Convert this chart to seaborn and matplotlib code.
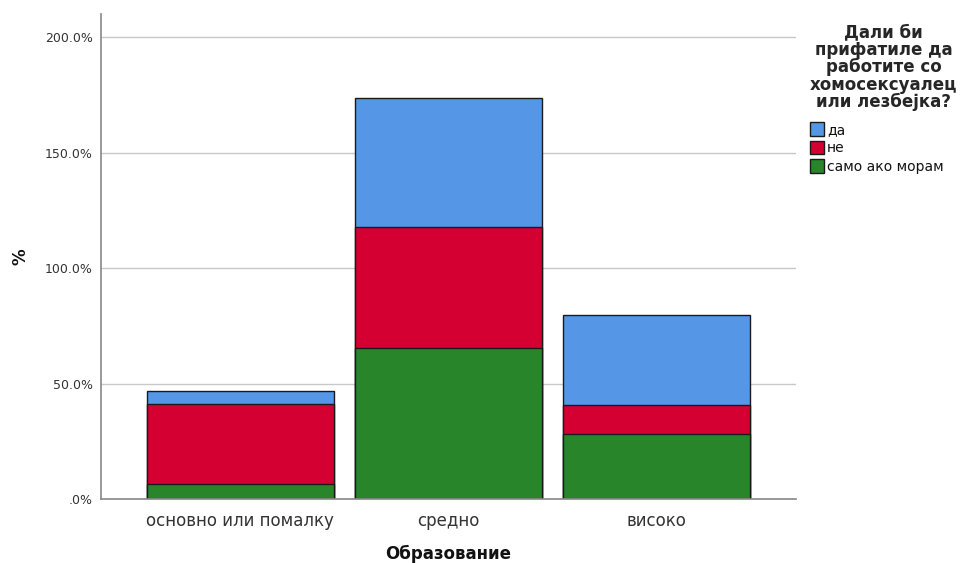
import matplotlib
matplotlib.use("Agg")
import matplotlib.pyplot as plt
import seaborn as sns
import pandas as pd
import numpy as np
from matplotlib.patches import Patch
from matplotlib.ticker import FuncFormatter

categories = ["основно или помалку", "средно", "високо"]
series_names = ["да", "не", "само ако морам"]
da = [5.3, 55.9, 38.9]
ne = [34.9, 52.3, 12.9]
samo = [6.4, 65.3, 28.0]
colors = ["#5596E6", "#D50032", "#29852A"]
y_ticks = [0, 50, 100, 150, 200]
legend_title = "Дали би\nприфатиле да\nработите со\nхомосексуалец\nили лезбејка?"

sns.set_theme(style="white")
plt.rcParams["font.family"] = ["DejaVu Sans"]

df = pd.DataFrame({"cat": categories, "da": da, "ne": ne, "samo": samo})
df["c_samo"] = df["samo"]
df["c_ne"] = df["samo"] + df["ne"]
df["c_da"] = df["c_ne"] + df["da"]

fig = plt.figure(figsize=(9.62, 5.63), dpi=100)
ax = fig.add_axes([101/962, 1-499/563, (796-101)/962, (499-14)/563])

ax.yaxis.grid(True, color="#c8c8c8", linewidth=1)
ax.set_axisbelow(True)

for col, c in zip(["c_da", "c_ne", "c_samo"], colors):
    sns.barplot(data=df, x="cat", y=col, order=categories, color=c,
                saturation=1, width=0.9, edgecolor="#1a1a1a", linewidth=1.0,
                ax=ax, errorbar=None)

ax.set_xlim(-0.67, 2.67)
ax.set_ylim(0, 210)
ax.set_yticks(y_ticks)
ax.yaxis.set_major_formatter(FuncFormatter(lambda v, p: (f"{v:.1f}%" if v != 0 else ".0%")))
ax.tick_params(axis="y", labelsize=9, colors="#333333", length=0, pad=6)
ax.tick_params(axis="x", labelsize=12, colors="#333333", length=0, pad=9)
for s in ["top", "right"]:
    ax.spines[s].set_visible(False)
for s in ["left", "bottom"]:
    ax.spines[s].set_color("#888888")
    ax.spines[s].set_linewidth(1.2)

ax.set_xlabel("Образование", fontsize=12, fontweight="bold", color="#111111", labelpad=11)
ax.set_ylabel("%", fontsize=12, fontweight="bold", color="#111111", labelpad=11)

handles = [Patch(facecolor=c, edgecolor="#1a1a1a", linewidth=1) for c in colors]
leg = fig.legend(handles, series_names, title=legend_title, loc="upper left",
                 bbox_to_anchor=(800/962, 1-14/563), frameon=False,
                 fontsize=10, title_fontsize=12, handlelength=1.05, handleheight=1.1,
                 handletextpad=0.2, labelspacing=0.3, borderpad=0.2)
leg.get_title().set_fontweight("bold")
leg.get_title().set_multialignment("center")
leg.get_title().set_linespacing(0.95)
leg._legend_box.align = "left"
leg._legend_box.sep = 8
for t in leg.get_texts():
    t.set_color("#111111")

fig.savefig("out.png", dpi=100)
